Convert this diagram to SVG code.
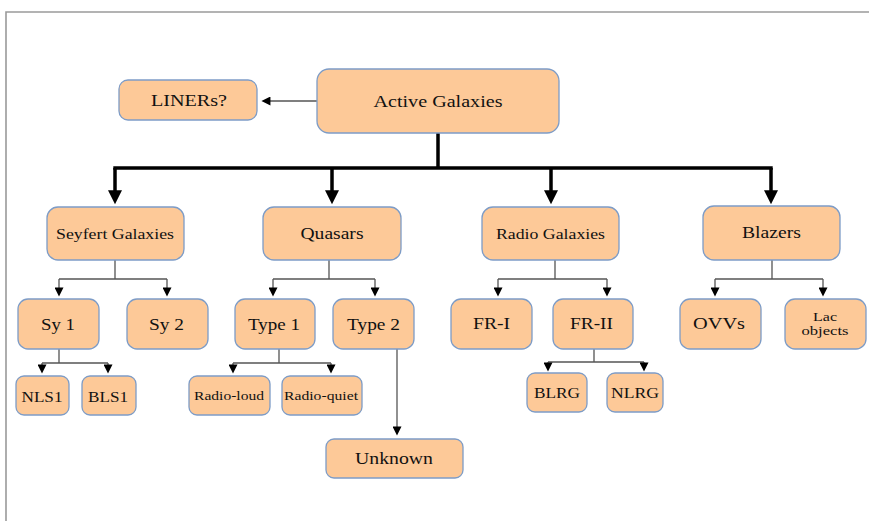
<svg xmlns="http://www.w3.org/2000/svg" width="869" height="521" viewBox="0 0 869 521">
<style>
.box{fill:#fdc998;stroke:#7d9cc7;stroke-width:1.3}
.t{font-family:"Liberation Serif","Times New Roman",serif;fill:#111;text-anchor:middle}
.thin{fill:none;stroke:#555;stroke-width:1.3}
.thick{fill:none;stroke:#000;stroke-width:3.5}
.frame{fill:none;stroke:#9a9a9a;stroke-width:1.6}
</style>
<defs>
<marker id="ah" viewBox="0 0 10 10" refX="0.5" refY="5" markerWidth="11" markerHeight="9" markerUnits="userSpaceOnUse" orient="auto">
<path d="M0,0 L10,5 L0,10 z" fill="#000"/>
</marker>
<marker id="ahb" viewBox="0 0 10 10" refX="0.5" refY="5" markerWidth="15" markerHeight="14" markerUnits="userSpaceOnUse" orient="auto">
<path d="M0,0 L10,5 L0,10 z" fill="#000"/>
</marker>
</defs>
<path class="frame" d="M6,521 V12 H869"/>
<g id="connectors">
<path class="thin" d="M317,101 H270" marker-end="url(#ah)"/>
<path class="thick" d="M438,133 V168"/>
<path class="thick" d="M113.3,168 H772.7"/>
<path class="thick" d="M115,168 V191" marker-end="url(#ahb)"/>
<path class="thick" d="M332,168 V191" marker-end="url(#ahb)"/>
<path class="thick" d="M551,168 V191" marker-end="url(#ahb)"/>
<path class="thick" d="M771,168 V191" marker-end="url(#ahb)"/>
<path class="thin" d="M115,260 V279 M59,279 H167"/>
<path class="thin" d="M59,279 V288" marker-end="url(#ah)"/>
<path class="thin" d="M167,279 V288" marker-end="url(#ah)"/>
<path class="thin" d="M329,260 V279 M273,279 H375"/>
<path class="thin" d="M273,279 V288" marker-end="url(#ah)"/>
<path class="thin" d="M375,279 V288" marker-end="url(#ah)"/>
<path class="thin" d="M555,260 V279 M498,279 H607"/>
<path class="thin" d="M498,279 V288" marker-end="url(#ah)"/>
<path class="thin" d="M607,279 V288" marker-end="url(#ah)"/>
<path class="thin" d="M772,260 V279 M715,279 H823"/>
<path class="thin" d="M715,279 V288" marker-end="url(#ah)"/>
<path class="thin" d="M823,279 V288" marker-end="url(#ah)"/>
<path class="thin" d="M59,349 V363 M42,363 H108"/>
<path class="thin" d="M42,363 V365" marker-end="url(#ah)"/>
<path class="thin" d="M108,363 V365" marker-end="url(#ah)"/>
<path class="thin" d="M279,349 V363 M233,363 H331"/>
<path class="thin" d="M233,363 V365" marker-end="url(#ah)"/>
<path class="thin" d="M331,363 V365" marker-end="url(#ah)"/>
<path class="thin" d="M594,349 V362 M548,362 H644"/>
<path class="thin" d="M548,362 V363" marker-end="url(#ah)"/>
<path class="thin" d="M644,362 V363" marker-end="url(#ah)"/>
<path class="thin" d="M397,349 V427" marker-end="url(#ah)"/>
</g>
<g id="active"><rect class="box" x="317" y="69" width="242" height="64" rx="12"/><text class="t" x="438" y="107" font-size="17" textLength="129" lengthAdjust="spacingAndGlyphs">Active Galaxies</text></g>
<g id="liners"><rect class="box" x="119" y="80" width="138" height="40" rx="9"/><text class="t" x="189" y="106" font-size="16" textLength="76" lengthAdjust="spacingAndGlyphs">LINERs?</text></g>
<g id="seyfert"><rect class="box" x="47" y="207" width="137" height="53" rx="11"/><text class="t" x="115" y="239" font-size="15" textLength="118" lengthAdjust="spacingAndGlyphs">Seyfert Galaxies</text></g>
<g id="quasars"><rect class="box" x="263" y="207" width="138" height="53" rx="11"/><text class="t" x="332" y="239" font-size="16" textLength="63" lengthAdjust="spacingAndGlyphs">Quasars</text></g>
<g id="radio"><rect class="box" x="482" y="207" width="137" height="53" rx="11"/><text class="t" x="550.5" y="239" font-size="15" textLength="109" lengthAdjust="spacingAndGlyphs">Radio Galaxies</text></g>
<g id="blazers"><rect class="box" x="703" y="206" width="137" height="54" rx="11"/><text class="t" x="771.5" y="238" font-size="16" textLength="59" lengthAdjust="spacingAndGlyphs">Blazers</text></g>
<g id="sy1"><rect class="box" x="18" y="299" width="81" height="50" rx="10"/><text class="t" x="58" y="330" font-size="17" textLength="34" lengthAdjust="spacingAndGlyphs">Sy 1</text></g>
<g id="sy2"><rect class="box" x="127" y="299" width="81" height="50" rx="10"/><text class="t" x="166.5" y="330" font-size="17" textLength="35" lengthAdjust="spacingAndGlyphs">Sy 2</text></g>
<g id="type1"><rect class="box" x="235" y="299" width="80" height="50" rx="10"/><text class="t" x="274" y="330" font-size="17" textLength="52" lengthAdjust="spacingAndGlyphs">Type 1</text></g>
<g id="type2"><rect class="box" x="333" y="299" width="81" height="50" rx="10"/><text class="t" x="373.5" y="330" font-size="17" textLength="53" lengthAdjust="spacingAndGlyphs">Type 2</text></g>
<g id="fr1"><rect class="box" x="451" y="299" width="81" height="50" rx="10"/><text class="t" x="491.5" y="329" font-size="17" textLength="37" lengthAdjust="spacingAndGlyphs">FR-I</text></g>
<g id="fr2"><rect class="box" x="553" y="299" width="80" height="50" rx="10"/><text class="t" x="591.5" y="329" font-size="17" textLength="43" lengthAdjust="spacingAndGlyphs">FR-II</text></g>
<g id="ovvs"><rect class="box" x="680" y="299" width="81" height="50" rx="10"/><text class="t" x="719" y="329" font-size="17" textLength="52" lengthAdjust="spacingAndGlyphs">OVVs</text></g>
<g id="lac"><rect class="box" x="785" y="299" width="81" height="50" rx="10"/><text class="t" x="825" y="321" font-size="13" textLength="24" lengthAdjust="spacingAndGlyphs">Lac</text><text class="t" x="825" y="335" font-size="13" textLength="47" lengthAdjust="spacingAndGlyphs">objects</text></g>
<g id="nls1"><rect class="box" x="16" y="376" width="53" height="39" rx="8"/><text class="t" x="42" y="401.5" font-size="15" textLength="41" lengthAdjust="spacingAndGlyphs">NLS1</text></g>
<g id="bls1"><rect class="box" x="82" y="376" width="54" height="39" rx="8"/><text class="t" x="108" y="401.5" font-size="15" textLength="40" lengthAdjust="spacingAndGlyphs">BLS1</text></g>
<g id="radioloud"><rect class="box" x="189" y="376" width="81" height="39" rx="8"/><text class="t" x="229" y="399.5" font-size="13" textLength="70" lengthAdjust="spacingAndGlyphs">Radio-loud</text></g>
<g id="radioquiet"><rect class="box" x="282" y="376" width="80" height="39" rx="8"/><text class="t" x="321" y="399.5" font-size="13" textLength="74" lengthAdjust="spacingAndGlyphs">Radio-quiet</text></g>
<g id="blrg"><rect class="box" x="527" y="373" width="60" height="39" rx="8"/><text class="t" x="557" y="398" font-size="15" textLength="46" lengthAdjust="spacingAndGlyphs">BLRG</text></g>
<g id="nlrg"><rect class="box" x="607" y="373" width="56" height="39" rx="8"/><text class="t" x="635" y="398" font-size="15" textLength="48" lengthAdjust="spacingAndGlyphs">NLRG</text></g>
<g id="unknown"><rect class="box" x="326" y="439" width="137" height="39" rx="8"/><text class="t" x="394" y="463.5" font-size="17" textLength="78" lengthAdjust="spacingAndGlyphs">Unknown</text></g>
</svg>
